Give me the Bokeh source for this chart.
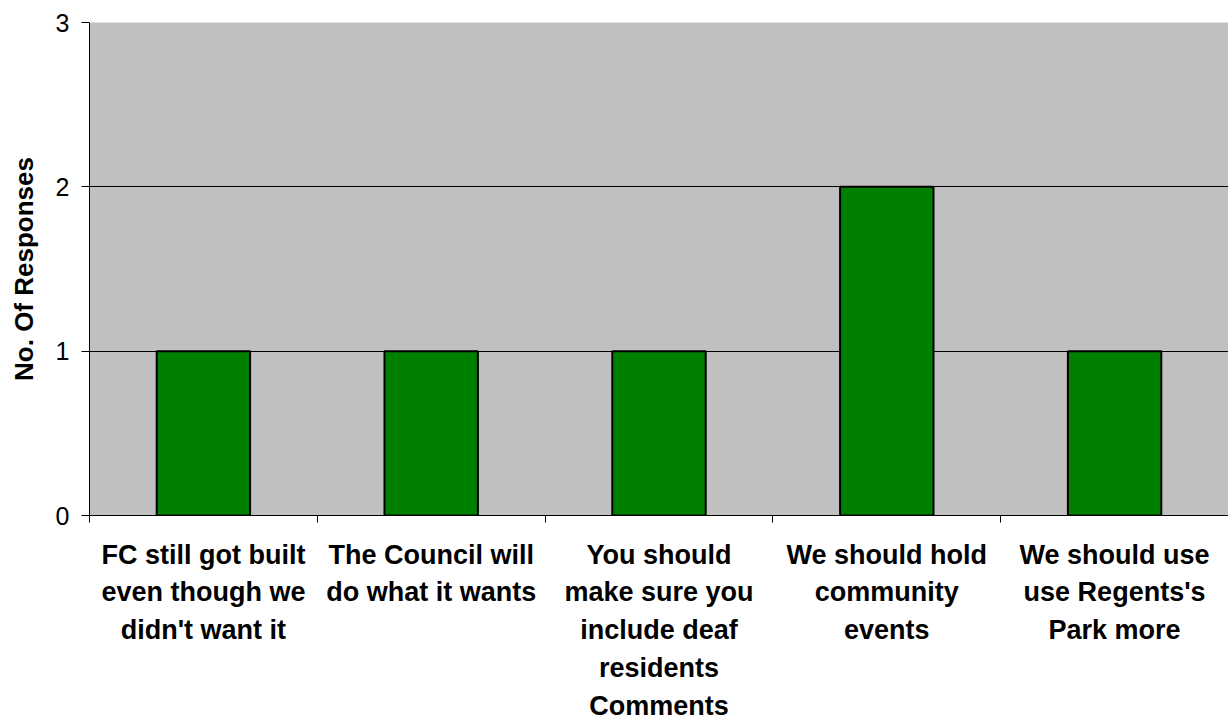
from bokeh.plotting import figure
from bokeh.models import Range1d, FixedTicker, CustomJSTickFormatter, ColumnDataSource
from bokeh.embed import file_html
from bokeh.resources import INLINE

categories = [
    "FC still got built\neven though we\ndidn't want it",
    "The Council will\ndo what it wants",
    "You should\nmake sure you\ninclude deaf\nresidents",
    "We should hold\ncommunity\nevents",
    "We should use\nuse Regents's\nPark more",
]
responses = [1, 1, 1, 2, 1]
y_ticks = [0, 1, 2, 3]

n = len(categories)
xs = [i + 0.5 for i in range(n)]
src = ColumnDataSource(dict(x=xs, top=responses))

FONT = "Liberation Sans"

p = figure(width=1228, height=723, output_backend="svg", toolbar_location=None,
           x_range=Range1d(0, n), y_range=Range1d(0, 3),
           min_border_left=89, min_border_right=0, min_border_top=22, min_border_bottom=208)
p.background_fill_color = "#C0C0C0"
p.outline_line_color = None

p.vbar(x="x", top="top", bottom=0, width=0.41, source=src,
       fill_color="#008000", line_color="black", line_width=2)

# x axis
p.xaxis.ticker = FixedTicker(ticks=xs, minor_ticks=list(range(n + 1)))
p.xaxis.formatter = CustomJSTickFormatter(args=dict(cats=categories),
                                          code="return cats[Math.floor(tick)];")
p.xaxis.major_tick_out = 0
p.xaxis.major_tick_in = 0
p.xaxis.minor_tick_out = 7
p.xaxis.minor_tick_in = 0
p.xaxis.minor_tick_line_color = "black"
p.xaxis.axis_line_color = "black"
p.xaxis.major_label_text_font = FONT
p.xaxis.major_label_text_font_style = "bold"
p.xaxis.major_label_text_font_size = "27px"
p.xaxis.major_label_text_color = "black"
p.xaxis.major_label_text_line_height = 1.26
p.xaxis.major_label_standoff = 17
p.xaxis.axis_label = "Comments"
p.xaxis.axis_label_text_font = FONT
p.xaxis.axis_label_text_font_style = "bold"
p.xaxis.axis_label_text_font_size = "27px"
p.xaxis.axis_label_text_color = "black"
p.xaxis.axis_label_standoff = 5

# y axis
p.yaxis.ticker = FixedTicker(ticks=y_ticks)
p.yaxis.major_tick_out = 8
p.yaxis.major_tick_in = 0
p.yaxis.minor_tick_line_color = None
p.yaxis.axis_line_color = "black"
p.yaxis.major_tick_line_color = "black"
p.yaxis.major_label_text_font = FONT
p.yaxis.major_label_text_font_size = "25px"
p.yaxis.major_label_text_color = "black"
p.yaxis.major_label_standoff = 12
p.yaxis.axis_label = "No. Of Responses"
p.yaxis.axis_label_text_font = FONT
p.yaxis.axis_label_text_font_style = "bold"
p.yaxis.axis_label_text_font_size = "26px"
p.yaxis.axis_label_text_color = "black"
p.yaxis.axis_label_standoff = 14

p.xgrid.grid_line_color = None
p.ygrid.ticker = FixedTicker(ticks=y_ticks)
p.ygrid.grid_line_color = "black"
p.ygrid.grid_line_width = 1

open("out.html", "w").write(file_html(p, INLINE))
